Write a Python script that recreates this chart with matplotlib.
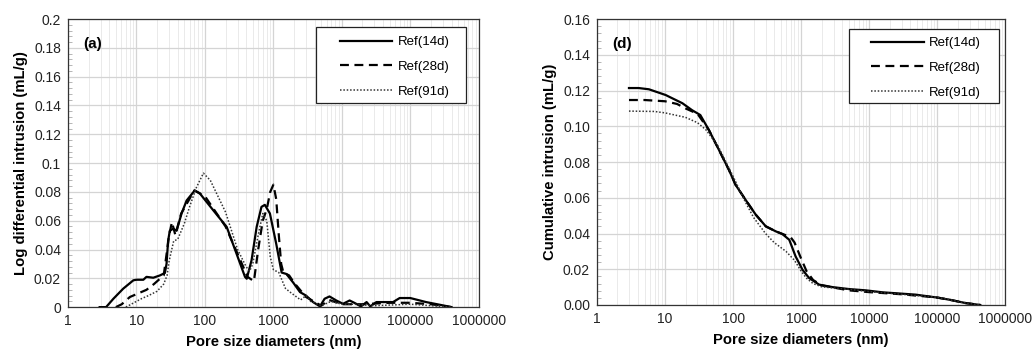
import matplotlib.pyplot as plt
from matplotlib.patches import Rectangle
from matplotlib.ticker import FixedLocator, MultipleLocator, FuncFormatter, NullFormatter
import numpy as np

plt.rcParams['font.family'] = ['Liberation Sans', 'DejaVu Sans']

# (a) log differential intrusion
d14_x = [2.9, 3.6, 4.6, 6.4, 9, 10, 12.6, 14, 17.6, 22, 26, 27.5, 29, 30.7, 34.5, 38.5, 45.6, 54, 71,
         84, 132, 208, 290, 385, 408, 480, 570, 670, 750, 890, 1100, 1320, 1550, 1950, 2450, 3000,
         3800, 4800, 5600, 6600, 8300, 10400, 13000, 15500, 19000, 23000, 26000, 32000, 56000,
         70000, 100000, 170000, 300000, 400000]
d14_y = [0, 0, 0.0058, 0.0128, 0.0186, 0.019, 0.019, 0.021, 0.0204, 0.022, 0.0237, 0.030, 0.046, 0.053,
         0.0545, 0.053, 0.065, 0.074, 0.081, 0.079, 0.0673, 0.0557, 0.037, 0.021, 0.0197, 0.0325,
         0.0557, 0.0696, 0.071, 0.065, 0.044, 0.024, 0.023, 0.017, 0.0104, 0.008, 0.0035, 0.0005,
         0.0058, 0.0074, 0.0046, 0.0023, 0.0046, 0.0028, 0.0005, 0.0035, 0.0005, 0.0035, 0.0035,
         0.0063, 0.0063, 0.0035, 0.0012, 0]

d28_x = [5, 6.1, 8, 10, 14, 18, 25, 30, 33, 37, 45, 70, 100, 200, 300, 420, 450, 520, 600, 700,
         800, 900, 1000, 1100, 1200, 1300, 1400, 1700, 2000, 3000, 5000, 6500, 10000, 20000,
         50000, 100000, 200000, 400000]
d28_y = [0, 0.002, 0.007, 0.009, 0.012, 0.016, 0.022, 0.05, 0.059, 0.05, 0.065, 0.081, 0.077, 0.056,
         0.037, 0.021, 0.02, 0.018, 0.04, 0.06, 0.068, 0.08, 0.085, 0.075, 0.05, 0.03, 0.024, 0.022,
         0.017, 0.007, 0.001, 0.005, 0.002, 0.002, 0.003, 0.003, 0.002, 0]

d91_x = [7, 10, 12, 15, 20, 25, 28, 30, 35, 40, 50, 60, 75, 95, 120, 200, 300, 400, 450, 500, 600,
         700, 800, 900, 1000, 1200, 1500, 1800, 2500, 3000, 3500, 5000, 7000, 10000, 15000, 30000,
         100000, 400000]
d91_y = [0, 0.004, 0.006, 0.008, 0.011, 0.016, 0.022, 0.032, 0.046, 0.047, 0.058, 0.07, 0.083, 0.093,
         0.088, 0.066, 0.040, 0.028, 0.025, 0.03, 0.05, 0.065, 0.06, 0.035, 0.026, 0.024, 0.013,
         0.010, 0.005, 0.008, 0.004, 0.001, 0.004, 0.002, 0.002, 0.001, 0.002, 0]

# (d) cumulative intrusion
c14_x = [2.95, 4.1, 5.8, 10.2, 18, 25, 33, 44, 62, 87, 109, 153, 216, 303, 425, 530, 670, 830,
         1050, 1310, 1840, 2900, 5100, 8900, 15700, 48000, 94000, 150000, 260000, 430000]
c14_y = [0.1214, 0.1214, 0.1207, 0.1175, 0.1129, 0.109, 0.1063, 0.098, 0.0868, 0.0756, 0.0672,
         0.0588, 0.0505, 0.044, 0.0412, 0.0397, 0.0365, 0.0272, 0.0197, 0.0151, 0.0114, 0.0100,
         0.0089, 0.0082, 0.0071, 0.0058, 0.0043, 0.003, 0.0011, 0]

c28_x = [2.95, 5, 10, 15, 20, 30, 44, 62, 87, 109, 153, 216, 303, 425, 600, 700, 800, 1000, 1200,
         1500, 2000, 5000, 10000, 30000, 100000, 150000, 260000, 430000]
c28_y = [0.1147, 0.1147, 0.114, 0.1125, 0.110, 0.107, 0.098, 0.0868, 0.0756, 0.0672, 0.0588, 0.0505,
         0.044, 0.0412, 0.039, 0.038, 0.035, 0.026, 0.019, 0.014, 0.011, 0.0082, 0.0072, 0.006,
         0.0042, 0.003, 0.0011, 0]

c91_x = [2.95, 7, 10, 20, 30, 40, 60, 100, 150, 200, 300, 400, 600, 800, 1000, 1200, 1500, 2000,
         3000, 5000, 10000, 30000, 100000, 150000, 260000, 430000]
c91_y = [0.1085, 0.1083, 0.1075, 0.105, 0.102, 0.098, 0.089, 0.072, 0.058, 0.049, 0.040, 0.035,
         0.030, 0.025, 0.019, 0.015, 0.012, 0.0102, 0.0095, 0.0088, 0.0075, 0.006, 0.0043, 0.003,
         0.0011, 0]

labels = ['Ref(14d)', 'Ref(28d)', 'Ref(91d)']
xticks = [1, 10, 100, 1000, 10000, 100000, 1000000]

fig = plt.figure(figsize=(10.32, 3.53), dpi=100)
ax1 = fig.add_axes([0.0659, 0.130, 0.398, 0.816])
ax2 = fig.add_axes([0.5785, 0.136, 0.3955, 0.810])


def style(ax, ymax, ystep, fmt, ylabel, tag, box, anchor):
    ax.set_xscale('log')
    ax.set_xlim(1, 1000000)
    ax.set_ylim(0, ymax)
    ax.xaxis.set_major_locator(FixedLocator(xticks))
    ax.xaxis.set_major_formatter(FuncFormatter(lambda v, p: '%d' % round(v)))
    ax.xaxis.set_minor_formatter(NullFormatter())
    ax.yaxis.set_major_locator(MultipleLocator(ystep))
    ax.yaxis.set_minor_locator(MultipleLocator(ystep / 5))
    ax.yaxis.set_major_formatter(FuncFormatter(fmt))
    ax.grid(True, which='major', color='#d4d4d4', lw=0.9)
    ax.grid(True, which='minor', axis='x', color='#e6e6e6', lw=0.6)
    ax.set_axisbelow(True)
    ax.tick_params(which='major', length=0, labelsize=10, pad=5, colors='#222222')
    ax.tick_params(which='minor', axis='y', direction='in', length=3, color='#aaaaaa')
    ax.tick_params(which='minor', axis='x', length=0)
    for s in ax.spines.values():
        s.set_color('#333333')
        s.set_linewidth(0.9)
    ax.set_xlabel('Pore size diameters (nm)', fontsize=10.7, fontweight='bold', labelpad=5)
    ax.set_ylabel(ylabel, fontsize=10.7, fontweight='bold', labelpad=4)
    ax.text(0.038, 0.9, tag, transform=ax.transAxes, fontsize=11, fontweight='bold')
    # legend frame drawn as its own box, Excel style padding
    ax.add_patch(Rectangle((box[0], box[1]), box[2] - box[0], box[3] - box[1],
                           transform=ax.transAxes, facecolor='white', edgecolor='#222222',
                           lw=0.9, zorder=4))
    ax.legend(loc='upper right', bbox_to_anchor=anchor, fontsize=9.5, frameon=False,
              borderpad=0, labelspacing=0.95, handlelength=4.0, handletextpad=0.4,
              borderaxespad=0)


ax1.plot(d14_x, d14_y, color='black', lw=1.6, label=labels[0])
ax1.plot(d28_x, d28_y, color='black', lw=1.6, ls=(0, (4, 2.5)), label=labels[1])
ax1.plot(d91_x, d91_y, color='#333333', lw=1.1, ls=(0, (1, 1.2)), label=labels[2])
style(ax1, 0.2, 0.02, lambda v, p: '0' if abs(v) < 1e-9 else ('%.2f' % v).rstrip('0'),
      'Log differential intrusion (mL/g)', '(a)',
      (0.6034, 0.7094, 0.9684, 0.971), (0.929, 0.941))

ax2.plot(c14_x, c14_y, color='black', lw=1.6, label=labels[0])
ax2.plot(c28_x, c28_y, color='black', lw=1.6, ls=(0, (4, 2.5)), label=labels[1])
ax2.plot(c91_x, c91_y, color='#333333', lw=1.1, ls=(0, (1, 1.2)), label=labels[2])
style(ax2, 0.16, 0.02, lambda v, p: '%.2f' % v, 'Cumulative intrusion (mL/g)', '(d)',
      (0.617, 0.705, 0.986, 0.965), (0.941, 0.937))

plt.savefig('out.png', dpi=100)
